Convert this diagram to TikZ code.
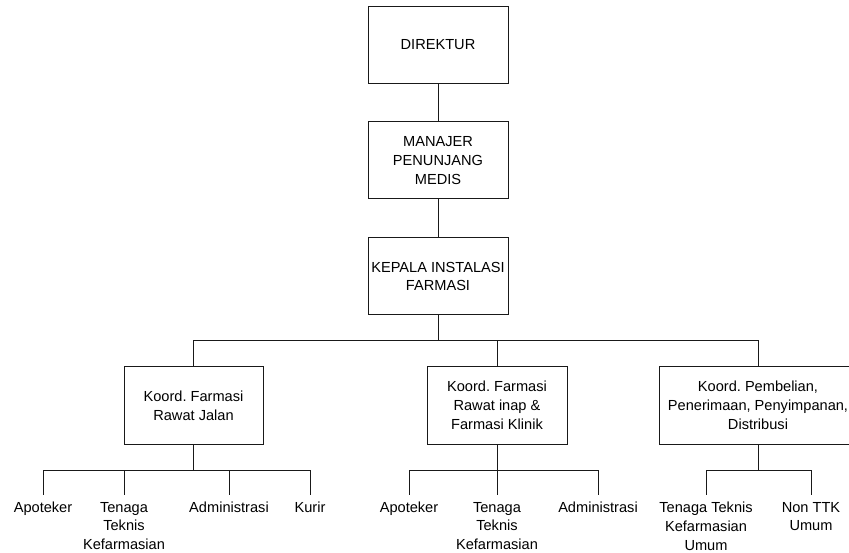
\documentclass[tikz,border=0pt]{standalone}
\usepackage{fontspec}
\setmainfont{Liberation Sans}
\frenchspacing
\begin{document}
\begin{tikzpicture}[x=1pt,y=-1pt,
  every node/.style={font=\fontsize{14.6}{18.8}\selectfont\frenchspacing, text=black},
  box/.style={draw=black!90, line width=1pt, minimum width=140pt, minimum height=77pt, align=center, inner sep=2pt},
  leaf/.style={anchor=north, align=center, inner xsep=1pt, inner ysep=0pt, outer ysep=7pt},
  conn/.style={draw=black!90, line width=1pt}]
\useasboundingbox (0,0) rectangle (849,553);
\begin{scope}
\clip (0,0) rectangle (849,553);
\node[box] (dir) at (438,45) {DIREKTUR};
\node[box] (man) at (438,160.5) {MANAJER\\PENUNJANG\\MEDIS};
\node[box] (kep) at (438,276.5) {KEPALA INSTALASI\\FARMASI};
\node[box, minimum width=139pt] (k1) at (193.5,405.5) {Koord.\ Farmasi\\Rawat Jalan};
\node[box] (k2) at (497,405.5) {Koord.\ Farmasi\\Rawat inap \&\\Farmasi Klinik};
\node[box, minimum width=198pt] (k3) at (758,405.5) {Koord.\ Pembelian,\\Penerimaan, Penyimpanan,\\Distribusi};

\node[leaf] (a1) at (43,495) {Apoteker};
\node[leaf] (a2) at (124,495) {Tenaga\\Teknis\\Kefarmasian};
\node[leaf] (a3) at (229,495) {Administrasi};
\node[leaf] (a4) at (310,495) {Kurir};
\node[leaf] (b1) at (409,495) {Apoteker};
\node[leaf] (b2) at (497,495) {Tenaga\\Teknis\\Kefarmasian};
\node[leaf] (b3) at (598,495) {Administrasi};
\node[leaf] (c1) at (706,495) {Tenaga Teknis\\Kefarmasian\\Umum};
\node[leaf] (c2) at (811,495) {Non TTK\\Umum};

\coordinate (j0) at (438,341);
\coordinate (j1) at (193.5,470);
\coordinate (j2) at (497,470);
\coordinate (j3) at (758,470);

\draw[conn] (dir) -- (man);
\draw[conn] (man) -- (kep);
\draw[conn] (kep.south) -- (j0);
\draw[conn] (j0) -| (k1.north);
\draw[conn] (j0) -| (k3.north);
\draw[conn] (k2.north) -- (k2.north |- j0);

\draw[conn] (k1.south) -- (j1);
\draw[conn] (j1) -| (a1.north);
\draw[conn] (j1) -| (a2.north);
\draw[conn] (j1) -| (a3.north);
\draw[conn] (j1) -| (a4.north);

\draw[conn] (k2.south) -- (j2);
\draw[conn] (j2) -| (b1.north);
\draw[conn] (j2) -- (b2.north);
\draw[conn] (j2) -| (b3.north);

\draw[conn] (k3.south) -- (j3);
\draw[conn] (j3) -| (c1.north);
\draw[conn] (j3) -| (c2.north);
\end{scope}
\end{tikzpicture}
\end{document}
